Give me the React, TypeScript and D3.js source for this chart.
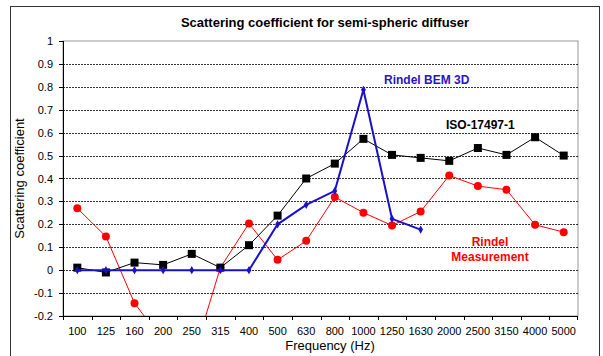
import React from "react";
import * as d3 from "d3";

const categories = ["100","125","160","200","250","315","400","500","630","800","1000","1250","1630","2000","2500","3150","4000","5000"];
const isoValues = [0.011,-0.01,0.033,0.023,0.071,0.011,0.109,0.238,0.40,0.465,0.573,0.503,0.49,0.477,0.533,0.503,0.58,0.5];
const bemValues: (number|null)[] = [0,0,0,0,0,0,0,0.2,0.285,0.346,0.787,0.224,0.177,null,null,null,null,null];
const measValues = [0.27,0.147,-0.144,-0.31,-0.40,0.011,0.204,0.045,0.128,0.319,0.251,0.195,0.256,0.413,0.367,0.351,0.198,0.166];
const yTicks = [-0.2,-0.1,0,0.1,0.2,0.3,0.4,0.5,0.6,0.7,0.8,0.9,1];

const W = 603, H = 356;
const L = 63, R = 578, T = 41, B = 316;
const FONT = "Liberation Sans, Arial, sans-serif";

export default function App() {
  const x = d3.scaleBand().domain(categories).range([L, R]);
  const cx = (c: string) => (x(c) as number) + x.bandwidth() / 2;
  const y = d3.scaleLinear().domain([-0.2, 1]).range([B, T]);

  const isoData = categories.map((c, i) => ({ c, v: isoValues[i] }));
  const bemData = categories.map((c, i) => ({ c, v: bemValues[i] })).filter(d => d.v !== null) as {c:string,v:number}[];
  const measData = categories.map((c, i) => ({ c, v: measValues[i] }));
  const line = d3.line<{c:string,v:number}>().x(d => cx(d.c)).y(d => y(d.v));
  const diamond = d3.symbol().type(d3.symbolDiamond).size(20)() as string;

  return (
    <svg width={W} height={H} style={{ position: "absolute", left: 0, top: 0 }} fontFamily={FONT}>
      <defs>
        <clipPath id="plot"><rect x={L} y={T} width={R - L} height={B - T} /></clipPath>
      </defs>
      <rect x={0} y={0} width={W} height={H} fill="#fff" />
      <rect x={10.5} y={6.5} width={589} height={380} fill="#fff" stroke="#333" strokeWidth={1} />
      <rect x={L} y={T} width={R - L} height={B - T} fill="#fff" stroke="#999" strokeWidth={1} />
      {yTicks.filter(t => t > -0.2 && t < 1).map(t => (
        <line key={t} x1={L} x2={R} y1={Math.round(y(t)) + 0.5} y2={Math.round(y(t)) + 0.5} stroke="#000" strokeWidth={0.8} strokeDasharray="2,1" />
      ))}
      <line x1={L + 0.5} x2={L + 0.5} y1={T} y2={B} stroke="#000" strokeWidth={1} />
      <line x1={L} x2={R} y1={B + 0.5} y2={B + 0.5} stroke="#000" strokeWidth={1} />
      {yTicks.map(t => (
        <g key={t}>
          <line x1={L - 4} x2={L} y1={Math.round(y(t)) + 0.5} y2={Math.round(y(t)) + 0.5} stroke="#000" />
          <text x={L - 10} y={y(t) + 4} textAnchor="end" fontSize={11} fill="#000">{t}</text>
        </g>
      ))}
      {categories.map(c => (
        <line key={"t" + c} x1={Math.round(x(c) as number) + 0.5} x2={Math.round(x(c) as number) + 0.5} y1={B} y2={B + 4} stroke="#000" />
      ))}
      <line x1={R - 0.5} x2={R - 0.5} y1={B} y2={B + 4} stroke="#000" />
      {categories.map(c => (
        <text key={"l" + c} x={cx(c)} y={335} textAnchor="middle" fontSize={11} fill="#000">{c}</text>
      ))}
      <g clipPath="url(#plot)">
        <path d={line(measData) as string} fill="none" stroke="#ff0000" strokeWidth={1} />
        {measData.map(d => <circle key={"m" + d.c} cx={cx(d.c)} cy={y(d.v)} r={4} fill="#ff0000" />)}
        <path d={line(isoData) as string} fill="none" stroke="#000" strokeWidth={1} />
        {isoData.map(d => <rect key={"i" + d.c} x={cx(d.c) - 4} y={y(d.v) - 4} width={8} height={8} fill="#000" />)}
        <path d={line(bemData) as string} fill="none" stroke="#1a10c8" strokeWidth={2} />
        {bemData.map(d => <path key={"b" + d.c} d={diamond} transform={`translate(${cx(d.c)},${y(d.v)})`} fill="#1a10c8" />)}
      </g>
      <text x={325} y={27} textAnchor="middle" fontSize={13} fontWeight="bold" fill="#000">Scattering coefficient for semi-spheric diffuser</text>
      <text x={384} y={84} fontSize={12} fontWeight="bold" fill="#2a14c8">Rindel BEM 3D</text>
      <text x={446} y={129} fontSize={12} fontWeight="bold" fill="#000">ISO-17497-1</text>
      <text x={490} y={246} textAnchor="middle" fontSize={12} fontWeight="bold" fill="#ff0000">Rindel</text>
      <text x={490} y={261} textAnchor="middle" fontSize={12} fontWeight="bold" fill="#ff0000">Measurement</text>
      <text x={330} y={350} textAnchor="middle" fontSize={13} fill="#000">Frequency (Hz)</text>
      <text transform={`translate(24,${(T + B) / 2}) rotate(-90)`} textAnchor="middle" fontSize={13} fill="#000">Scattering coefficient</text>
    </svg>
  );
}
